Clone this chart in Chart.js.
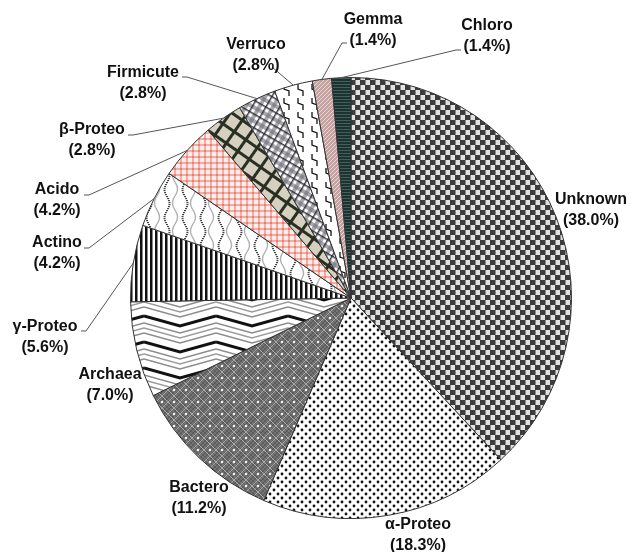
<!DOCTYPE html>
<html>
<head>
<meta charset="utf-8">
<script src="https://cdn.jsdelivr.net/npm/chart.js@4"></script>
<style>
  html, body { margin: 0; padding: 0; background: #fff; }
  #wrap { width: 631px; height: 552px; }
</style>
</head>
<body>
<div id="wrap"><canvas id="pie" width="631" height="552"></canvas></div>
<script>
/* ---------- data ---------- */
var TAXA = ['Unknown', 'α-Proteo', 'Bactero', 'Archaea', 'γ-Proteo', 'Actino',
            'Acido', 'β-Proteo', 'Firmicute', 'Verruco', 'Gemma', 'Chloro'];
var PERCENT = [38.0, 18.3, 11.2, 7.0, 5.6, 4.2, 4.2, 2.8, 2.8, 2.8, 1.4, 1.4];

/* ---------- label layout (text centre x, first line y, leader start, tick dir) ---------- */
var LABEL_POS = [
  { x: 591, y: 200 },
  { x: 418, y: 525 },
  { x: 199, y: 488 },
  { x: 110, y: 375 },
  { x: 45,  y: 327, lx: 81,  ly: 331, dir: 1 },
  { x: 57,  y: 243, lx: 84,  ly: 248, dir: 1 },
  { x: 57,  y: 190, lx: 84,  ly: 195, dir: 1 },
  { x: 92,  y: 130, lx: 128, ly: 135, dir: 1 },
  { x: 143, y: 73,  lx: 182, ly: 77,  dir: 1 },
  { x: 256, y: 45,  lx: 272, ly: 67,  dir: 0 },
  { x: 373, y: 20,  lx: 347, ly: 43,  dir: -1 },
  { x: 487, y: 26,  lx: 461, ly: 50,  dir: -1 }
];

var canvas = document.getElementById('pie');
var ctx = canvas.getContext('2d');

/* ---------- 패턴 ---------- */
function makePattern(w, h, draw, angle) {
  var c = document.createElement('canvas');
  c.width = w; c.height = h;
  var g = c.getContext('2d');
  draw(g, w, h);
  var p = ctx.createPattern(c, 'repeat');
  if (angle) p.setTransform(new DOMMatrix().rotate(angle));
  return p;
}

var PATTERNS = [
  // Unknown - checker
  makePattern(10, 10, function (g) {
    g.fillStyle = '#e2e2e2'; g.fillRect(0, 0, 10, 10);
    g.fillStyle = '#3c3c3c';
    g.fillRect(0, 0, 5, 5); g.fillRect(5, 5, 5, 5);
    g.fillStyle = '#8a8a8a';
    g.fillRect(5, 0, 1, 5); g.fillRect(0, 5, 1, 5);
  }),
  // α-Proteo - dots
  makePattern(8, 8, function (g) {
    g.fillStyle = '#fff'; g.fillRect(0, 0, 8, 8);
    g.fillStyle = '#111';
    g.beginPath(); g.arc(2, 2, 1.4, 0, Math.PI * 2); g.fill();
    g.beginPath(); g.arc(6, 6, 1.4, 0, Math.PI * 2); g.fill();
  }),
  // Bactero - grey lattice with white dots
  makePattern(12, 12, function (g) {
    g.fillStyle = '#747474'; g.fillRect(0, 0, 12, 12);
    for (var i = 0; i < 12; i += 2) {
      for (var j = 0; j < 12; j += 2) {
        if (((i + j) / 2) % 2 === 0) { g.fillStyle = '#5e5e5e'; g.fillRect(i, j, 2, 2); }
      }
    }
    g.strokeStyle = '#a8a8a8'; g.lineWidth = 1;
    g.beginPath();
    g.moveTo(6, 0); g.lineTo(12, 6); g.lineTo(6, 12); g.lineTo(0, 6); g.closePath();
    g.stroke();
    g.fillStyle = '#f2f2f2';
    g.beginPath(); g.arc(6, 6, 1.3, 0, Math.PI * 2); g.fill();
  }),
  // Archaea - zigzag
  makePattern(72, 26, function (g, w, h) {
    g.fillStyle = '#fff'; g.fillRect(0, 0, w, h);
    var lines = [[4, '#111', 3], [11, '#8c8c8c', 1.5], [16, '#9a9a9a', 1.3], [21, '#8c8c8c', 1.5]];
    lines.forEach(function (l) {
      [-h, 0, h].forEach(function (off) {
        var y0 = l[0] + off;
        g.strokeStyle = l[1]; g.lineWidth = l[2];
        g.beginPath();
        g.moveTo(0, y0); g.lineTo(36, y0 + 10); g.lineTo(72, y0);
        g.stroke();
      });
    });
  }),
  // γ-Proteo - vertical stripes
  makePattern(5, 4, function (g) {
    g.fillStyle = '#fff'; g.fillRect(0, 0, 5, 4);
    g.fillStyle = '#111'; g.fillRect(0, 0, 2.5, 4);
  }),
  // Actino - wavy dotted lines
  makePattern(18, 28, function (g, w, h) {
    g.fillStyle = '#fff'; g.fillRect(0, 0, w, h);
    for (var y = 0; y < h; y += 2) {
      var x = 4 + 2.5 * Math.sin(2 * Math.PI * y / h);
      g.fillStyle = '#444'; g.fillRect(x, y, 2, 1.2);
    }
    g.strokeStyle = '#b0b0b0'; g.lineWidth = 1.4;
    g.beginPath();
    for (var y2 = 0; y2 <= h; y2++) {
      var x2 = 13 - 2.5 * Math.sin(2 * Math.PI * y2 / h);
      if (y2 === 0) g.moveTo(x2, y2); else g.lineTo(x2, y2);
    }
    g.stroke();
  }),
  // Acido - pink gingham
  makePattern(6, 6, function (g) {
    g.fillStyle = '#fdeeeb'; g.fillRect(0, 0, 6, 6);
    g.fillStyle = '#f5aca3'; g.fillRect(0, 0, 6, 2); g.fillRect(0, 0, 2, 6);
    g.fillStyle = '#ea7d72'; g.fillRect(0, 0, 2, 2);
  }),
  // β-Proteo - beige with dark grid
  makePattern(14, 14, function (g) {
    g.fillStyle = '#d6d0c0'; g.fillRect(0, 0, 14, 14);
    g.fillStyle = '#2a2f24'; g.fillRect(0, 0, 14, 3); g.fillRect(0, 0, 3, 14);
  }, 35),
  // Firmicute - plaid
  makePattern(12, 12, function (g) {
    g.fillStyle = '#fff'; g.fillRect(0, 0, 12, 12);
    g.fillStyle = 'rgba(110,110,120,0.6)';
    g.fillRect(0, 0, 4, 12); g.fillRect(0, 0, 12, 4);
    g.fillStyle = 'rgba(30,30,40,0.85)';
    g.fillRect(7, 0, 1.5, 12); g.fillRect(0, 7, 12, 1.5);
  }, 30),
  // Verruco - lightning zigzags
  makePattern(14, 14, function (g) {
    g.fillStyle = '#fff'; g.fillRect(0, 0, 14, 14);
    g.strokeStyle = '#111'; g.lineWidth = 1.3;
    g.beginPath();
    g.moveTo(4, 0); g.lineTo(4, 5); g.lineTo(9, 7); g.lineTo(9, 12);
    g.stroke();
  }),
  // Gemma - mauve fine diagonals
  makePattern(4, 4, function (g) {
    g.fillStyle = '#c5a3a2'; g.fillRect(0, 0, 4, 4);
    g.strokeStyle = '#ead6d3'; g.lineWidth = 1;
    g.beginPath(); g.moveTo(0, 4); g.lineTo(4, 0); g.stroke();
  }),
  // Chloro - dark teal lines
  makePattern(3, 3, function (g) {
    g.fillStyle = '#1d3331'; g.fillRect(0, 0, 3, 3);
    g.fillStyle = '#42605c'; g.fillRect(0, 0, 3, 1);
  })
];

/* ---------- 라벨 플러그인 ---------- */
var labelPlugin = {
  id: 'pieLabels',
  afterDatasetsDraw: function (chart) {
    var c = chart.ctx;
    var arcs = chart.getDatasetMeta(0).data;
    c.save();
    // leader lines
    c.strokeStyle = '#555';
    c.lineWidth = 1;
    arcs.forEach(function (arc, i) {
      var pos = LABEL_POS[i];
      if (pos.lx === undefined) return;
      var mid = (arc.startAngle + arc.endAngle) / 2;
      var ex = arc.x + Math.cos(mid) * arc.outerRadius;
      var ey = arc.y + Math.sin(mid) * arc.outerRadius;
      c.beginPath();
      c.moveTo(pos.lx, pos.ly);
      var tx = pos.lx + pos.dir * 5;
      c.lineTo(tx, pos.ly);
      c.lineTo(ex, ey);
      c.stroke();
    });
    // texts
    c.fillStyle = '#111';
    c.font = 'bold 16px "Liberation Sans", Arial, sans-serif';
    c.textAlign = 'center';
    c.textBaseline = 'middle';
    arcs.forEach(function (arc, i) {
      var pos = LABEL_POS[i];
      c.fillText(TAXA[i], pos.x, pos.y);
      c.fillText('(' + PERCENT[i].toFixed(1) + '%)', pos.x, pos.y + 21);
    });
    c.restore();
  }
};

new Chart(canvas, {
  type: 'pie',
  data: {
    labels: TAXA,
    datasets: [{
      data: PERCENT,
      backgroundColor: PATTERNS,
      borderColor: '#333',
      borderWidth: 1
    }]
  },
  options: {
    responsive: false,
    animation: false,
    layout: { padding: { left: 130, right: 59, top: 77, bottom: 33 } },
    plugins: {
      legend: { display: false },
      tooltip: { enabled: false }
    }
  },
  plugins: [labelPlugin]
});
</script>
</body>
</html>
